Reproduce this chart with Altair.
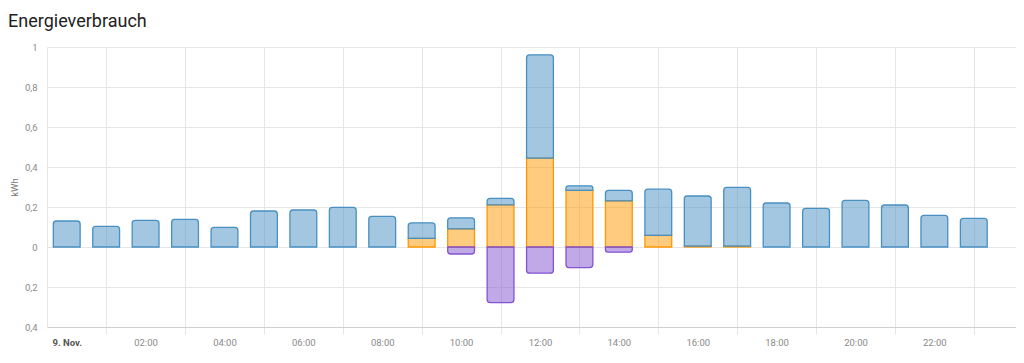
import altair as alt
import pandas as pd

# Hourly energy values (kWh), 9 Nov, hours 0..23
hours = list(range(24))
grid_kwh = [0.130, 0.103, 0.133, 0.138, 0.098, 0.180, 0.185, 0.198, 0.153, 0.078,
            0.055, 0.032, 0.517, 0.023, 0.052, 0.231, 0.251, 0.294, 0.220, 0.193,
            0.233, 0.210, 0.158, 0.143]
solar_kwh = [0, 0, 0, 0, 0, 0, 0, 0, 0, 0.043,
             0.091, 0.211, 0.444, 0.283, 0.231, 0.058, 0.004, 0.004, 0, 0,
             0, 0, 0, 0]
return_kwh = [0, 0, 0, 0, 0, 0, 0, 0, 0, 0,
              -0.035, -0.278, -0.131, -0.103, -0.026, 0, 0, 0, 0, 0,
              0, 0, 0, 0]

y_ticks = [-0.4, -0.2, 0, 0.2, 0.4, 0.6, 0.8, 1.0]

rows = []
for h, g, s, r in zip(hours, grid_kwh, solar_kwh, return_kwh):
    if s > 0:
        rows.append({"hour": h, "series": "solar", "y0": 0.0, "y1": s})
    if g > 0:
        rows.append({"hour": h, "series": "grid", "y0": s, "y1": s + g})
    if r < 0:
        rows.append({"hour": h, "series": "return", "y0": r, "y1": 0.0})
df = pd.DataFrame(rows)

GRID = "#e6e6e6"
LABEL = "#8a8a8a"

x_enc = alt.X(
    "x0:Q",
    scale=alt.Scale(domain=[-0.5, 24.07], nice=False, zero=False),
    axis=alt.Axis(
        values=hours,
        title=None,
        grid=True,
        gridColor={"condition": {"test": "datum.value % 2 == 1", "value": GRID}, "value": "transparent"},
        ticks=True,
        tickSize=7,
        tickColor={"condition": {"test": "datum.value % 2 == 1", "value": GRID}, "value": "transparent"},
        domainColor="#d0d0d0",
        labelExpr="datum.value % 2 == 1 ? '' : (datum.value == 0 ? '9. Nov.' : (datum.value < 10 ? '0' : '') + datum.value + ':00')",
        labelFontWeight={"condition": {"test": "datum.value == 0", "value": "bold"}, "value": "normal"},
        labelColor={"condition": {"test": "datum.value == 0", "value": "#555555"}, "value": LABEL},
        labelFontSize=9.5,
        labelPadding=3,
        labelFlush=False,
        labelOverlap=False,
    ),
)
y_enc = alt.Y(
    "y0:Q",
    scale=alt.Scale(domain=[-0.4, 1.0], nice=False),
    axis=alt.Axis(
        values=y_ticks,
        title="kWh",
        titleFontSize=9.5,
        titleFontWeight="normal",
        titleColor="#777777",
        titlePadding=5,
        grid=True,
        gridColor=GRID,
        ticks=False,
        domainColor=GRID,
        labelExpr="replace(format(abs(datum.value), '.1~f'), '.', ',')",
        labelColor=LABEL,
        labelFontSize=9.5,
        labelPadding=10,
    ),
)

base = alt.Chart(df).transform_calculate(
    x0="datum.hour - 0.34", x1="datum.hour + 0.34"
)

def layer(series, color, **radius):
    return base.transform_filter(alt.datum.series == series).mark_bar(
        color=color, fillOpacity=0.5, stroke=color, strokeWidth=1.3, **radius
    ).encode(x=x_enc, x2="x1:Q", y=y_enc, y2="y1:Q")

chart = alt.layer(
    layer("solar", "#ff9800"),
    layer("grid", "#488fc2", cornerRadiusTopLeft=3, cornerRadiusTopRight=3),
    layer("return", "#8353d1", cornerRadiusBottomLeft=3, cornerRadiusBottomRight=3),
).properties(
    width=969,
    height=280,
    title=alt.TitleParams(
        "Energieverbrauch", anchor="start", frame="group", dx=-39, offset=11,
        fontSize=18, font="Roboto", fontWeight="normal", color="#212121",
    ),
    autosize=alt.AutoSizeParams(type="none"),
    padding={"left": 39, "top": 39, "right": 0, "bottom": 30},
).configure(font="Roboto").configure_view(stroke=None)

chart.save("out.html", embed_options={"renderer": "svg", "actions": False})
